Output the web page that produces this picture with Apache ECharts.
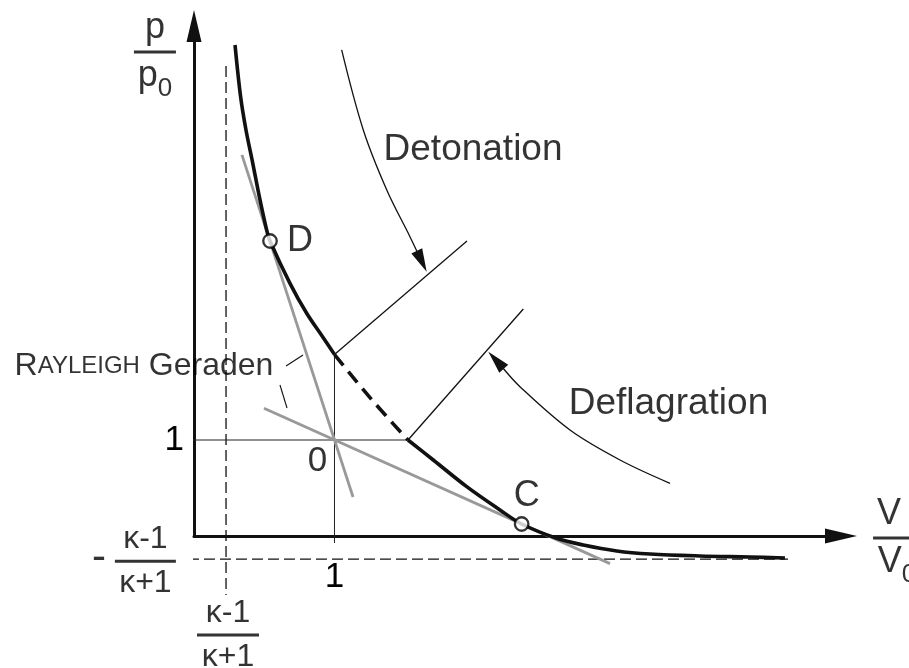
<!DOCTYPE html>
<html>
<head>
<meta charset="utf-8">
<script src="https://cdn.jsdelivr.net/npm/echarts@6/dist/echarts.min.js"></script>
<style>
  html, body { margin: 0; padding: 0; background: #fff; }
  #chart { width: 909px; height: 668px; }
</style>
</head>
<body>
<div id="chart"></div>
<script>
// Hugoniot curve p/p0 over V/V0, split where the physically forbidden part is drawn dashed
const hugoniotUpper = [[0.292, 5.115], [0.332, 4.573], [0.370, 4.229], [0.418, 3.885], [0.465, 3.535],
  [0.517, 3.188], [0.541, 3.073], [0.683, 2.632], [0.802, 2.320], [0.920, 2.065], [1.0, 1.89]];
const hugoniotForbidden = [[1.0, 1.89], [1.267, 1.417], [1.523, 1.0]];
const hugoniotLower = [[1.523, 1.0], [1.703, 0.792], [1.941, 0.514], [2.178, 0.271], [2.332, 0.125],
  [2.581, -0.024], [2.771, -0.094], [3.009, -0.156], [3.246, -0.1875], [3.601, -0.208],
  [3.957, -0.219], [4.206, -0.229]];

// Rayleigh lines through the initial state 0
const initialState = [1, 1];
const rayleighSteep = [[0.341, 3.97], [1.132, 0.406]];
const rayleighFlat = [[0.498, 1.33], [2.961, -0.288]];

// Chapman-Jouguet points
const pointD = [0.541, 3.073];
const pointC = [2.332, 0.125];

// asymptotes at (k-1)/(k+1)
const asymptoteV = 0.228;
const asymptoteP = -0.24;
const asymptoteVSpan = [4.896, -0.615];
const asymptotePSpan = [-0.043, 4.228];

// shock lines and guide lines
const detonationShock = [[1.0, 1.89], [1.943, 3.073]];
const deflagrationShock = [[1.523, 1.0], [2.344, 2.365]];
const guideV1 = [[1, 1.89], [1, -0.073]];
const guideP1 = [[-0.064, 1], [1.523, 1]];
const leaderA = [[0.655, 1.771], [0.776, 1.885]];
const leaderB = [[0.612, 1.573], [0.662, 1.333]];

// curved direction arrows
const detonationArrow = [[1.051, 5.063], [1.205, 4.229], [1.372, 3.604], [1.537, 3.118], [1.656, 2.753]];
const deflagrationArrow = [[3.388, 0.549], [3.032, 0.792], [2.676, 1.104], [2.320, 1.555], [2.095, 1.920]];

// axis tick labels
const xTickLabels = { 1: '1' };
const yTickLabels = { 1: '1' };

const FONT = '"Liberation Sans", Arial, Helvetica, sans-serif';
const INK = '#000';

function segment(data, width, color, dash, z) {
  return {
    type: 'line', data: data, showSymbol: false, clip: false, silent: true,
    lineStyle: { width: width, color: color, type: dash || 'solid', cap: 'butt' },
    z: z || 2, animation: false
  };
}

function fraction(top, bottom, barWidth, size, subscript, topShift) {
  const den = subscript ? '{d|' + bottom + '}{s|' + subscript + '}' : '{d|' + bottom + '}';
  return {
    formatter: '{n|' + top + '}\n{b|}\n' + den,
    rich: {
      n: { fontSize: size, lineHeight: size + 2, fontFamily: FONT, color: INK, align: 'center',
           padding: [0, topShift || 0, 0, 0] },
      b: { width: barWidth, height: 3, lineHeight: 10, backgroundColor: INK, align: 'center' },
      d: { fontSize: size, lineHeight: size + 2, fontFamily: FONT, color: INK },
      s: { fontSize: Math.round(size * 0.72), lineHeight: size + 2, fontFamily: FONT, color: INK,
           verticalAlign: 'bottom', padding: [0, 0, -7, 0] }
    }
  };
}

const arrowPaths = [detonationArrow, deflagrationArrow];

const chart = echarts.init(document.getElementById('chart'), null, { renderer: 'canvas' });

const textStyleBase = { fontFamily: FONT, color: INK };

const notes = [
  { value: [1.986, 4.021], label: { formatter: 'Detonation', fontSize: 37 } },
  { value: [3.377, 1.375], label: { formatter: 'Deflagration', fontSize: 37 } },
  { value: [0.879, 0.781], label: { formatter: '0', fontSize: 35 } },
  { value: [-0.356, 1.766], label: {
      formatter: '{a|R}{b|AYLEIGH}{a| Geraden}',
      rich: { a: { fontSize: 32, fontFamily: FONT, color: INK }, b: { fontSize: 24, fontFamily: FONT, color: INK } }
  } },
  { value: [-0.676, -0.23], label: { formatter: '-', fontSize: 42 } },
  { value: [-0.346, -0.262], label: fraction('κ-1', 'κ+1', 61, 32) },
  { value: [0.242, -1.031], label: fraction('κ-1', 'κ+1', 62, 32) },
  { value: [-0.278, 5.042], label: fraction('p', 'p', 42, 36, '0') },
  { value: [5.004, -0.021], label: fraction('V', 'V', 48, 36, '0', 16) }
];

const option = {
  animation: false,
  backgroundColor: '#fff',
  grid: { left: 194, top: 26, right: 68, bottom: 132, containLabel: false },
  xAxis: {
    type: 'value', min: 0, max: 4.605, interval: 1,
    axisLine: { show: true, onZero: false, symbol: ['none', 'triangle'], symbolSize: [15, 32],
      lineStyle: { color: '#111', width: 3 } },
    axisTick: { show: false }, splitLine: { show: false },
    axisLabel: { formatter: v => xTickLabels[v] || '', fontSize: 35, fontFamily: FONT, color: INK, margin: 24,
      showMinLabel: true, showMaxLabel: false }
  },
  yAxis: {
    type: 'value', min: 0, max: 5.3125, interval: 1,
    axisLine: { show: true, onZero: false, symbol: ['none', 'triangle'], symbolSize: [15, 32],
      lineStyle: { color: '#111', width: 3 } },
    axisTick: { show: false }, splitLine: { show: false },
    axisLabel: { formatter: v => yTickLabels[v] || '', fontSize: 35, fontFamily: FONT, color: INK, margin: 10,
      showMaxLabel: false }
  },
  series: [
    // asymptotes
    segment([[asymptoteV, asymptoteVSpan[0]], [asymptoteV, asymptoteVSpan[1]]], 1.3, '#111', [11, 5], 1),
    segment([[asymptotePSpan[0], asymptoteP], [asymptotePSpan[1], asymptoteP]], 1.3, '#111', [11, 5], 1),
    // thin guide lines through the initial state
    segment(guideV1, 1, '#222', 'solid', 1),
    segment(guideP1, 1, '#222', 'solid', 1),
    segment(detonationShock, 1.3, '#111', 'solid', 1),
    segment(deflagrationShock, 1.3, '#111', 'solid', 1),
    segment(leaderA, 1.1, '#111', 'solid', 1),
    segment(leaderB, 1.1, '#111', 'solid', 1),
    // Rayleigh lines
    segment(rayleighSteep, 2.8, '#999999', 'solid', 2),
    segment(rayleighFlat, 2.8, '#999999', 'solid', 2),
    // Hugoniot curve
    Object.assign(segment(hugoniotUpper, 3.6, '#111', 'solid', 3), { smooth: 0.35 }),
    Object.assign(segment(hugoniotForbidden, 3.6, '#111', [14, 8], 3), { smooth: 0.35 }),
    Object.assign(segment(hugoniotLower, 3.6, '#111', 'solid', 3), { smooth: 0.35 }),
    // direction arrows
    {
      type: 'custom', clip: false, silent: true, z: 4,
      data: arrowPaths.map((p, i) => [i, 0]),
      renderItem: function (params, api) {
        const pts = arrowPaths[params.dataIndex].map(p => api.coord(p));
        const tip = pts[pts.length - 1], prev = pts[pts.length - 2];
        const dx = tip[0] - prev[0], dy = tip[1] - prev[1];
        const len = Math.hypot(dx, dy);
        const ux = dx / len, uy = dy / len;
        const L = 23, W = 6;
        const base = [tip[0] - ux * L, tip[1] - uy * L];
        const linePts = pts.slice(0, -1).concat([[tip[0] - ux * (L - 4), tip[1] - uy * (L - 4)]]);
        return {
          type: 'group',
          children: [
            { type: 'polyline', shape: { points: linePts, smooth: 0.35 },
              style: { stroke: '#111', lineWidth: 1.3, fill: null } },
            { type: 'polygon',
              shape: { points: [tip, [base[0] - uy * W, base[1] + ux * W], [base[0] + uy * W, base[1] - ux * W]] },
              style: { fill: '#111' } }
          ]
        };
      }
    },
    // D and C points
    {
      type: 'scatter', clip: false, silent: true, z: 5,
      symbol: 'circle', symbolSize: 13.5,
      itemStyle: { color: '#fff', borderColor: '#000', borderWidth: 2.3 },
      data: [
        { value: pointD, label: { show: true, formatter: 'D', position: 'right', distance: 9, fontSize: 36, fontFamily: FONT, color: INK } },
        { value: pointC, label: { show: true, formatter: 'C', position: 'top', distance: 2, offset: [5, 0], fontSize: 36, fontFamily: FONT, color: INK } }
      ]
    },
    // text notes
    {
      type: 'scatter', clip: false, silent: true, z: 6,
      symbolSize: 0,
      label: Object.assign({ show: true, position: 'inside', align: 'center', verticalAlign: 'middle' }, textStyleBase),
      data: notes
    }
  ]
};

chart.setOption(option);
</script>
</body>
</html>
